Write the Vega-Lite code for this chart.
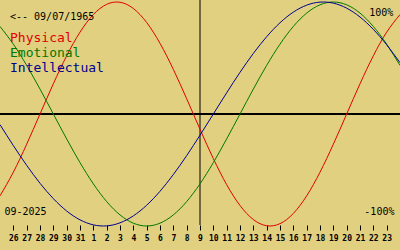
{
  "$schema": "https://vega.github.io/schema/vega-lite/v6.json",
  "width": 400,
  "height": 225,
  "padding": {"left": 0, "top": 0, "right": 0, "bottom": 25},
  "autosize": {"type": "none"},
  "background": "#e0d080",
  "config": {"view": {"stroke": null}, "font": "DejaVu Sans Mono"},
  "datasets": {
    "bio": [
      {"date": "2025-08-25", "Physical": -0.7308, "Emotional": 0.7818, "Intellectual": -0.0951},
      {"date": "2025-08-26", "Physical": -0.5196, "Emotional": 0.6235, "Intellectual": -0.2817},
      {"date": "2025-08-27", "Physical": -0.2698, "Emotional": 0.4339, "Intellectual": -0.4582},
      {"date": "2025-08-28", "Physical": 0.0, "Emotional": 0.2225, "Intellectual": -0.6182},
      {"date": "2025-08-29", "Physical": 0.2698, "Emotional": 0.0, "Intellectual": -0.7557},
      {"date": "2025-08-30", "Physical": 0.5196, "Emotional": -0.2225, "Intellectual": -0.866},
      {"date": "2025-08-31", "Physical": 0.7308, "Emotional": -0.4339, "Intellectual": -0.945},
      {"date": "2025-09-01", "Physical": 0.888, "Emotional": -0.6235, "Intellectual": -0.9898},
      {"date": "2025-09-02", "Physical": 0.9791, "Emotional": -0.7818, "Intellectual": -0.9989},
      {"date": "2025-09-03", "Physical": 0.9977, "Emotional": -0.901, "Intellectual": -0.9718},
      {"date": "2025-09-04", "Physical": 0.9423, "Emotional": -0.9749, "Intellectual": -0.9096},
      {"date": "2025-09-05", "Physical": 0.817, "Emotional": -1.0, "Intellectual": -0.8146},
      {"date": "2025-09-06", "Physical": 0.6311, "Emotional": -0.9749, "Intellectual": -0.6901},
      {"date": "2025-09-07", "Physical": 0.3984, "Emotional": -0.901, "Intellectual": -0.5406},
      {"date": "2025-09-08", "Physical": 0.1362, "Emotional": -0.7818, "Intellectual": -0.3717},
      {"date": "2025-09-09", "Physical": -0.1362, "Emotional": -0.6235, "Intellectual": -0.1893},
      {"date": "2025-09-10", "Physical": -0.3984, "Emotional": -0.4339, "Intellectual": 0.0},
      {"date": "2025-09-11", "Physical": -0.6311, "Emotional": -0.2225, "Intellectual": 0.1893},
      {"date": "2025-09-12", "Physical": -0.817, "Emotional": 0.0, "Intellectual": 0.3717},
      {"date": "2025-09-13", "Physical": -0.9423, "Emotional": 0.2225, "Intellectual": 0.5406},
      {"date": "2025-09-14", "Physical": -0.9977, "Emotional": 0.4339, "Intellectual": 0.6901},
      {"date": "2025-09-15", "Physical": -0.9791, "Emotional": 0.6235, "Intellectual": 0.8146},
      {"date": "2025-09-16", "Physical": -0.888, "Emotional": 0.7818, "Intellectual": 0.9096},
      {"date": "2025-09-17", "Physical": -0.7308, "Emotional": 0.901, "Intellectual": 0.9718},
      {"date": "2025-09-18", "Physical": -0.5196, "Emotional": 0.9749, "Intellectual": 0.9989},
      {"date": "2025-09-19", "Physical": -0.2698, "Emotional": 1.0, "Intellectual": 0.9898},
      {"date": "2025-09-20", "Physical": 0.0, "Emotional": 0.9749, "Intellectual": 0.945},
      {"date": "2025-09-21", "Physical": 0.2698, "Emotional": 0.901, "Intellectual": 0.866},
      {"date": "2025-09-22", "Physical": 0.5196, "Emotional": 0.7818, "Intellectual": 0.7557},
      {"date": "2025-09-23", "Physical": 0.7308, "Emotional": 0.6235, "Intellectual": 0.6182},
      {"date": "2025-09-24", "Physical": 0.888, "Emotional": 0.4339, "Intellectual": 0.4582}
    ],
    "legend": [
      {"date": "2025-08-25T18:00:00Z", "v": 0.647, "series": "Physical"},
      {"date": "2025-08-25T18:00:00Z", "v": 0.509, "series": "Emotional"},
      {"date": "2025-08-25T18:00:00Z", "v": 0.371, "series": "Intellectual"}
    ],
    "notesLeft": [
      {"date": "2025-08-25T18:00:00Z", "v": 0.835, "label": "<-- 09/07/1965"},
      {"date": "2025-08-25T08:00:00Z", "v": -0.902, "label": "09-2025"}
    ],
    "notesRight": [
      {"date": "2025-09-23T12:00:00Z", "v": 0.878, "label": "100%"},
      {"date": "2025-09-23T14:00:00Z", "v": -0.906, "label": "-100%"}
    ],
    "today": [{"date": "2025-09-09"}]
  },
  "encoding": {
    "x": {
      "field": "date",
      "type": "temporal",
      "scale": {
        "type": "utc",
        "domain": [
          {"year": 2025, "month": "Aug", "date": 25, "utc": true},
          {"year": 2025, "month": "Sep", "date": 24, "utc": true}
        ]
      },
      "axis": {
        "title": null,
        "domain": false,
        "grid": false,
        "ticks": true,
        "tickSize": 5,
        "tickColor": "#000000",
        "tickWidth": 1,
        "format": "%-d",
        "labelFont": "DejaVu Sans Mono",
        "labelFontWeight": "bold",
        "labelFontSize": 8,
        "labelColor": "#000000",
        "labelPadding": 4,
        "labelFlush": false,
        "labelOverlap": false,
        "values": [
          {"year": 2025, "month": "Aug", "date": 26, "utc": true},
          {"year": 2025, "month": "Aug", "date": 27, "utc": true},
          {"year": 2025, "month": "Aug", "date": 28, "utc": true},
          {"year": 2025, "month": "Aug", "date": 29, "utc": true},
          {"year": 2025, "month": "Aug", "date": 30, "utc": true},
          {"year": 2025, "month": "Aug", "date": 31, "utc": true},
          {"year": 2025, "month": "Sep", "date": 1, "utc": true},
          {"year": 2025, "month": "Sep", "date": 2, "utc": true},
          {"year": 2025, "month": "Sep", "date": 3, "utc": true},
          {"year": 2025, "month": "Sep", "date": 4, "utc": true},
          {"year": 2025, "month": "Sep", "date": 5, "utc": true},
          {"year": 2025, "month": "Sep", "date": 6, "utc": true},
          {"year": 2025, "month": "Sep", "date": 7, "utc": true},
          {"year": 2025, "month": "Sep", "date": 8, "utc": true},
          {"year": 2025, "month": "Sep", "date": 9, "utc": true},
          {"year": 2025, "month": "Sep", "date": 10, "utc": true},
          {"year": 2025, "month": "Sep", "date": 11, "utc": true},
          {"year": 2025, "month": "Sep", "date": 12, "utc": true},
          {"year": 2025, "month": "Sep", "date": 13, "utc": true},
          {"year": 2025, "month": "Sep", "date": 14, "utc": true},
          {"year": 2025, "month": "Sep", "date": 15, "utc": true},
          {"year": 2025, "month": "Sep", "date": 16, "utc": true},
          {"year": 2025, "month": "Sep", "date": 17, "utc": true},
          {"year": 2025, "month": "Sep", "date": 18, "utc": true},
          {"year": 2025, "month": "Sep", "date": 19, "utc": true},
          {"year": 2025, "month": "Sep", "date": 20, "utc": true},
          {"year": 2025, "month": "Sep", "date": 21, "utc": true},
          {"year": 2025, "month": "Sep", "date": 22, "utc": true},
          {"year": 2025, "month": "Sep", "date": 23, "utc": true}
        ]
      }
    }
  },
  "layer": [
    {
      "data": {"name": "bio"},
      "mark": {"type": "rule", "color": "#000000", "strokeWidth": 1},
      "encoding": {
        "x": null,
        "y": {"datum": 0, "type": "quantitative", "scale": {"domain": [-1, 1], "range": [226, 2]}, "axis": null}
      }
    },
    {
      "data": {"name": "today"},
      "mark": {"type": "rule", "color": "#000000", "strokeWidth": 1},
      "encoding": {}
    },
    {
      "data": {"name": "bio"},
      "transform": [{"fold": ["Physical", "Emotional", "Intellectual"], "as": ["series", "value"]}],
      "mark": {"type": "line", "strokeWidth": 1, "interpolate": "natural"},
      "encoding": {
        "y": {"field": "value", "type": "quantitative", "axis": null},
        "color": {
          "field": "series",
          "type": "nominal",
          "scale": {"domain": ["Physical", "Emotional", "Intellectual"], "range": ["#e00000", "#007800", "#000090"]},
          "legend": null
        },
        "detail": {"field": "series"}
      }
    },
    {
      "data": {"name": "legend"},
      "mark": {"type": "text", "align": "left", "baseline": "alphabetic", "fontSize": 13, "font": "DejaVu Sans Mono"},
      "encoding": {
        "y": {"field": "v", "type": "quantitative", "axis": null},
        "text": {"field": "series"},
        "color": {"field": "series", "type": "nominal", "legend": null}
      }
    },
    {
      "data": {"name": "notesLeft"},
      "mark": {"type": "text", "align": "left", "baseline": "alphabetic", "fontSize": 10, "font": "DejaVu Sans Mono", "color": "#000000"},
      "encoding": {
        "y": {"field": "v", "type": "quantitative", "axis": null},
        "text": {"field": "label"}
      }
    },
    {
      "data": {"name": "notesRight"},
      "mark": {"type": "text", "align": "right", "baseline": "alphabetic", "fontSize": 10, "font": "DejaVu Sans Mono", "color": "#000000"},
      "encoding": {
        "y": {"field": "v", "type": "quantitative", "axis": null},
        "text": {"field": "label"}
      }
    }
  ]
}
